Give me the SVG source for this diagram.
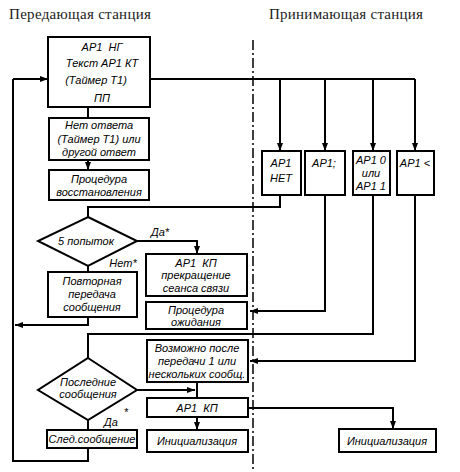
<svg xmlns="http://www.w3.org/2000/svg" width="460" height="472" viewBox="0 0 460 472">
<defs>
<marker id="ah" markerUnits="userSpaceOnUse" markerWidth="9" markerHeight="7" refX="8" refY="3" orient="auto">
<path d="M0,0 L8,3 L0,6 z" fill="#000"/>
</marker>
</defs>
<style>
.box{fill:#fff;stroke:#000;stroke-width:2}
.t{font-family:"Liberation Sans",Arial,sans-serif;font-style:italic;font-size:11px;fill:#000;text-anchor:middle}
.title{font-family:"Liberation Serif","Times New Roman",serif;font-size:15px;fill:#222}
.c{fill:none;stroke:#000;stroke-width:2}
.a{marker-end:url(#ah)}
.dash{fill:none;stroke:#000;stroke-width:1.5;stroke-dasharray:10 3 2 3}
</style>
<rect width="460" height="472" fill="#fff"/>
<text class="title" x="9" y="19" textLength="142" lengthAdjust="spacing">Передающая станция</text>
<text class="title" x="269" y="19" textLength="154" lengthAdjust="spacing">Принимающая станция</text>
<line class="dash" x1="253" y1="40" x2="253" y2="472"/>

<g id="connectors">
<path class="c" d="M88,107 V118"/>
<path class="c a" d="M88,160 V170"/>
<path class="c" d="M151,79 H415"/>
<path class="c a" d="M280,79 V151"/>
<path class="c a" d="M325,79 V151"/>
<path class="c a" d="M373,79 V151"/>
<path class="c a" d="M415,79 V151"/>
<path class="c" d="M280,195 V207 H88 V217"/>
<path class="c a" d="M137,241 H197 V254"/>
<path class="c" d="M88,266 V272"/>
<path class="c a" d="M88,317 V325 H15"/>
<path class="c" d="M88,448 V461 H13 V79"/>
<path class="c a" d="M13,79 H48"/>
<path class="c a" d="M325,195 V311 H250"/>
<path class="c" d="M373,195 V334 H88 V358"/>
<path class="c a" d="M415,195 V361 H250"/>
<path class="c a" d="M137,390 H195"/>
<path class="c" d="M197,382 V398"/>
<path class="c a" d="M197,417 V430"/>
<path class="c a" d="M248,408 H393 V429"/>
<path class="c" d="M88,420 V429"/>
</g>

<g id="n-main">
<rect class="box" x="48" y="37" width="102" height="70"/>
<text class="t" x="102" y="51">АР1&#160;&#160;НГ</text>
<text class="t" x="102" y="67">Текст АР1 КТ</text>
<text class="t" x="96" y="84" font-size="12">(Таймер Т1)</text>
<text class="t" x="102" y="102">ПП</text>
</g>
<g id="n-noanswer">
<rect class="box" x="49" y="118" width="100" height="42"/>
<text class="t" x="99" y="129">Нет ответа</text>
<text class="t" x="99" y="143">(Таймер Т1) или</text>
<text class="t" x="99" y="156">другой ответ</text>
</g>
<g id="n-recovery">
<rect class="box" x="49" y="170" width="100" height="30"/>
<text class="t" x="99" y="183">Процедура</text>
<text class="t" x="99" y="196">восстановления</text>
</g>
<g id="n-d5">
<polygon class="box" points="88,217 137,241 88,266 38,241"/>
<text class="t" x="86" y="245">5 попыток</text>
</g>
<text class="t" x="160" y="236">Да*</text>
<text class="t" x="123" y="267">Нет*</text>
<g id="n-repeat">
<rect class="box" x="48" y="272" width="89" height="45"/>
<text class="t" x="92" y="285">Повторная</text>
<text class="t" x="92" y="298">передача</text>
<text class="t" x="92" y="311">сообщения</text>
</g>
<g id="n-kp1">
<rect class="box" x="146" y="254" width="101" height="42"/>
<text class="t" x="196" y="267">АР1&#160;&#160;КП</text>
<text class="t" x="196" y="279">прекращение</text>
<text class="t" x="196" y="292">сеанса связи</text>
</g>
<g id="n-wait">
<rect class="box" x="146" y="302" width="101" height="27"/>
<text class="t" x="196" y="314">Процедура</text>
<text class="t" x="196" y="326">ожидания</text>
</g>
<g id="n-possible">
<rect class="box" x="147" y="340" width="101" height="42"/>
<text class="t" x="197" y="352" font-size="10.5">Возможно после</text>
<text class="t" x="197" y="365" font-size="10.5">передачи 1 или</text>
<text class="t" x="197" y="378" font-size="10.5">нескольких сообщ.</text>
</g>
<g id="n-dlast">
<polygon class="box" points="88,358 137,390 88,420 38,390"/>
<text class="t" x="88" y="386">Последние</text>
<text class="t" x="88" y="398">сообщения</text>
</g>
<text class="t" x="111" y="426">Да</text>
<text class="t" x="126" y="416">*</text>
<g id="n-kp2">
<rect class="box" x="147" y="398" width="101" height="19"/>
<text class="t" x="197" y="412">АР1&#160;&#160;КП</text>
</g>
<g id="n-next">
<rect class="box" x="47" y="430" width="90" height="18"/>
<text class="t" x="92" y="443">След.сообщение</text>
</g>
<g id="n-init1">
<rect class="box" x="147" y="430" width="101" height="22"/>
<text class="t" x="197" y="445">Инициализация</text>
</g>
<g id="n-r1">
<rect class="box" x="262" y="151" width="39" height="44"/>
<text class="t" x="281" y="167">АР1</text>
<text class="t" x="281" y="182">НЕТ</text>
</g>
<g id="n-r2">
<rect class="box" x="305" y="151" width="40" height="44"/>
<text class="t" x="324" y="167">АР1;</text>
</g>
<g id="n-r3">
<rect class="box" x="353" y="151" width="37" height="44"/>
<text class="t" x="371" y="164">АР1 0</text>
<text class="t" x="371" y="177">или</text>
<text class="t" x="371" y="190">АР1 1</text>
</g>
<g id="n-r4">
<rect class="box" x="397" y="151" width="37" height="44"/>
<text class="t" x="415" y="167">АР1 &lt;</text>
</g>
<g id="n-init2">
<rect class="box" x="339" y="429" width="97" height="23"/>
<text class="t" x="387" y="445">Инициализация</text>
</g>
</svg>
